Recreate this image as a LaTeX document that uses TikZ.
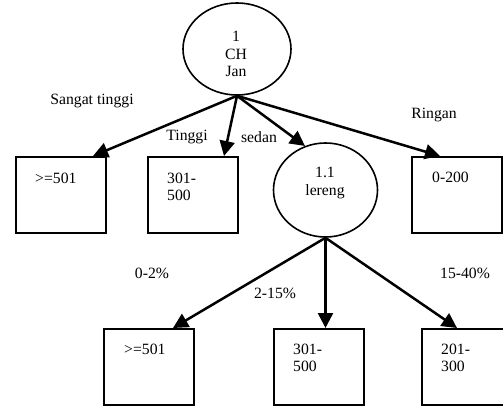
\documentclass[tikz,border=0pt]{standalone}
\usepackage{fontspec}
\setmainfont{Liberation Serif}
\usetikzlibrary{shapes.geometric,arrows.meta,calc}
\begin{document}
\begin{tikzpicture}[x=1pt,y=-1pt,
  box/.style={draw, line width=2pt, minimum width=90pt, minimum height=76pt, inner sep=0pt, anchor=north west},
  oval/.style={draw, ellipse, line width=1.6pt, inner sep=0pt},
  txt/.style={inner sep=0pt, font=\fontsize{15.7}{17.5}\selectfont},
  ltxt/.style={txt, anchor=west, align=left},
  arr/.style={line width=2.5pt, -{Triangle[length=15pt,width=15pt]}}]
\useasboundingbox (0,0) rectangle (503,406);
% nodes
\node[oval, minimum width=108pt, minimum height=92pt] (e1) at (237,49) {};
\node[oval, minimum width=104pt, minimum height=94pt] (e2) at (325.5,190) {};
\node[box] (b1) at (15,156) {};
\node[box] (b2) at (147,156) {};
\node[box] (b4) at (411,156) {};
\node[box] (c1) at (103,328) {};
\node[box] (c2) at (273,328) {};
\node[box] (c3) at (421,328) {};
% texts in shapes
\node[txt, align=center] (e1t) at (236,54) {1\\CH\\Jan};
\node[txt, align=center] (e2t) at (325,183) {1.1\\lereng};
\node[ltxt] (b1t) at (35,178) {>=501};
\node[ltxt] (b2t) at (167,187) {301-\\500};
\node[ltxt] (b4t) at (432,177) {0-200};
\node[ltxt] (c1t) at (124,349) {>=501};
\node[ltxt] (c2t) at (293,358) {301-\\500};
\node[ltxt] (c3t) at (441,358) {201-\\300};
% connectors
\draw[arr] (e1.south) -- ($(b1.north east)+(-14,0)$);
\draw[arr] (e1.south) -- ($(b2.north east)+(-15,0)$);
\draw[arr] (e1.south) -- (e2.115);
\draw[arr] (e1.south) -- ($(b4.north west)+(29,0)$);
\draw[arr] (e2.south) -- ($(c1.north east)+(-22,0)$);
\draw[arr] (e2.south) -- (e2.south |- c2.north);
\draw[arr] (e2.south) -- ($(c3.north west)+(36,0)$);
% connector labels
\node[txt] (l1) at (92,101) {Sangat tinggi};
\node[txt] (l2) at (187,137) {Tinggi};
\node[txt] (l3) at (259,137) {sedan};
\node[txt] (l4) at (434,115) {Ringan};
\node[txt] (l5) at (152,273) {0-2\%};
\node[txt] (l6) at (275,293) {2-15\%};
\node[txt] (l7) at (465,273) {15-40\%};
\end{tikzpicture}
\end{document}
